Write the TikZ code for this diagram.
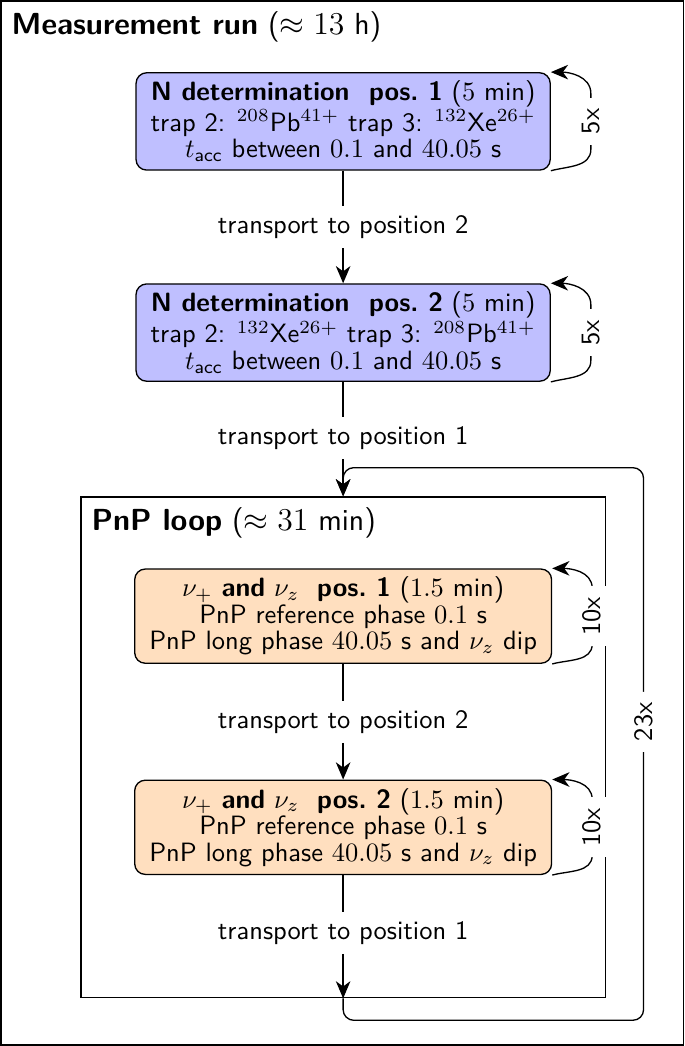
\documentclass[tikz,border=0pt]{standalone}
\usepackage{amsmath}
\usetikzlibrary{arrows.meta,positioning}
\tikzset{>/.tip={Stealth[length=6.5pt,width=5.5pt,inset=2pt]}}
\colorlet{nblue}{blue!25}
\colorlet{pnporange}{orange!25}

\begin{document}
\begin{tikzpicture}[node distance=1.4cm,on grid,font=\sffamily,line width=0.5pt,
    nbox/.style={draw,rounded corners,align=center,inner xsep=5.5pt,inner ysep=3pt,
      font=\sffamily\fontsize{10}{10}\selectfont},
    runframe/.style={draw,inner sep=0pt},
    heading/.style={anchor=north west,inner sep=4pt,font=\sffamily\fontsize{11.5}{14}\selectfont},
    repeats/.style={sloped,fill=white,inner sep=4pt}]
  \useasboundingbox (0,0) rectangle (9.08,-13.87);
  \node[runframe,minimum width=9.05cm,minimum height=13.84cm] (run) at (4.54,-6.935) {};
  \node[heading] (runtitle) at (run.north west) {\textbf{Measurement run} ($\approx 13$~h)};
  % N determination, both positions
  \node[nbox,fill=nblue] (N1) at (4.55,-1.61)
    {\textbf{N determination~ pos.~1} ($5$~min)\\
     trap 2: $^{208}$Pb$^{41+}$ trap 3: $^{132}$Xe$^{26+}$\\
     $t_\text{acc}$ between $0.1$ and $40.05$~s};
  \node(t12)[below=of N1]{transport to position 2};
  \node[nbox,fill=nblue] (N2) [below=of t12]
    {\textbf{N determination~ pos.~2} ($5$~min)\\
     trap 2: $^{132}$Xe$^{26+}$ trap 3: $^{208}$Pb$^{41+}$\\
     $t_\text{acc}$ between $0.1$ and $40.05$~s};
  \node(t21)[below=of N2]{transport to position 1};
  % PnP loop
  \node[runframe,minimum width=6.95cm,minimum height=6.64cm] (pnp) [below=4.1cm of t21] {};
  \node[heading] (pnptitle) at (pnp.north west) {\textbf{PnP loop} ($\approx 31$~min)};
  \node[nbox,fill=pnporange] (P1) [below=2.36cm of t21]
    {$\nu_+$ \textbf{and} $\nu_z$~ \textbf{pos.~1} ($1.5$~min)\\
     PnP reference phase $0.1$~s\\
     PnP long phase $40.05$~s and $\nu_z$ dip};
  \node(p12)[below=of P1]{transport to position 2};
  \node[nbox,fill=pnporange] (P2) [below=of p12]
    {$\nu_+$ \textbf{and} $\nu_z$~ \textbf{pos.~2} ($1.5$~min)\\
     PnP reference phase $0.1$~s\\
     PnP long phase $40.05$~s and $\nu_z$ dip};
  \node(p21)[below=of P2]{transport to position 1};
  \draw
  (N1) edge (t12)
  (N2) edge (t21)
  (P1) edge (p12)
  (P2) edge (p21);
  \draw[->]
  (t12) edge (N2)
  (t21) edge (pnp.north)
  (p12) edge (P2)
  (p21) edge (pnp.south);
  % repetitions
  \foreach \b/\n in {N1/5x,N2/5x,P1/10x,P2/10x}
    \draw[->] (\b.south east) to[out=15,in=-90] ([xshift=5.3mm,yshift=-3.7mm]\b.east)
      -- node[repeats]{\n} ([xshift=5.3mm,yshift=3.7mm]\b.east) to[out=90,in=0] (\b.north east);
  \draw[->,rounded corners] (pnp.south) -- ++(0,-2.9mm)
    -| node[repeats,pos=0.77]{23x} ([xshift=5mm,yshift=3.8mm]pnp.north east) -| (pnp.north);
\end{tikzpicture}
\end{document}
